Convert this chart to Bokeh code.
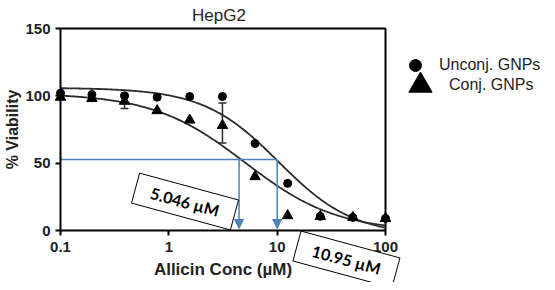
import numpy as np
from bokeh.plotting import figure
from bokeh.models import (Range1d, FixedTicker, Label, Arrow, NormalHead, Whisker, TeeHead,
                          ColumnDataSource, Legend, LegendItem)
from bokeh.embed import file_html
from bokeh.resources import INLINE

# ---- data ----
conc = [0.1, 0.195, 0.39, 0.78, 1.56, 3.125, 6.25, 12.5, 25, 50, 100]
unconj = [102, 101, 100, 99, 99.5, 99.5, 64.6, 35, 10.5, 9.7, 9]
conj = [99, 98, 96, 89, 82, 78, 40, 11, 10.5, 9.7, 9]

err_x = [0.39, 3.125]
err_lo = [90.6, 65]
err_hi = [101, 94.6]

# 4-parameter logistic fits (top, bottom, IC50, Hill slope)
unconj_fit = [106, -4, 10.3, 1.25]
conj_fit = [102, -1, 5.046, 1.02]

ic50_labels = ["5.046 \u00b5M", "10.95 \u00b5M"]
arrow_x = [4.45, 10.0]
half_y = 52.7

x_ticks = [0.1, 1, 10, 100]
x_tick_labels = ["0.1", "1", "10", "100"]
y_ticks = [0, 50, 100, 150]
x_lim = (0.1, 100)
y_lim = (0, 150)

FONT = "Liberation Sans"
BLUE = "#4F81BD"
INK = "#222222"

# ---- canvas geometry: the frame covers the whole canvas, axes are pinned inside ----
W, H = 545, 282
AX_LEFT, AX_RIGHT = 60, 385      # canvas px of x = 0.1 and x = 100
AX_TOP, AX_BOTTOM = 28, 230      # canvas px of y = 150 and y = 0
dec = (AX_RIGHT - AX_LEFT) / 3.0
ypp = (y_lim[1] - y_lim[0]) / (AX_BOTTOM - AX_TOP)
x_range = Range1d(10 ** (-1 - AX_LEFT / dec), 10 ** (-1 + (W - AX_LEFT) / dec))
y_range = Range1d(-(H - AX_BOTTOM) * ypp, y_lim[1] + AX_TOP * ypp)

p = figure(x_axis_type="log", x_range=x_range, y_range=y_range,
           width=W, height=H, min_border=0,
           output_backend="svg", toolbar_location=None, title=None)

p.xgrid.visible = False
p.ygrid.visible = False
p.outline_line_color = None
p.background_fill_color = "white"
p.border_fill_color = "white"

p.xaxis.fixed_location = y_lim[0]
p.xaxis.bounds = x_lim
p.yaxis.fixed_location = x_lim[0]
p.yaxis.bounds = y_lim
p.xaxis.ticker = FixedTicker(ticks=x_ticks)
p.xaxis.major_label_overrides = {t: l for t, l in zip(x_ticks, x_tick_labels)}
p.yaxis.ticker = FixedTicker(ticks=y_ticks)
for ax in (p.xaxis, p.yaxis):
    ax.axis_line_width = 2
    ax.axis_line_color = "black"
    ax.major_tick_line_width = 2
    ax.major_tick_line_color = "black"
    ax.major_tick_out = 5
    ax.major_tick_in = 0
    ax.minor_tick_line_color = None
    ax.major_label_text_font = FONT
    ax.major_label_text_font_style = "bold"
    ax.major_label_text_font_size = "15px"
    ax.major_label_text_color = INK
    ax.axis_label_text_font = FONT
    ax.axis_label_text_font_style = "bold"
    ax.axis_label_text_color = INK
p.xaxis.axis_label = "Allicin Conc (\u00b5M)"
p.yaxis.axis_label = "% Viability"
p.xaxis.axis_label_text_font_size = "17px"
p.yaxis.axis_label_text_font_size = "16px"
p.xaxis.major_label_standoff = 6
p.xaxis.axis_label_standoff = 5
p.yaxis.major_label_standoff = 5
p.yaxis.axis_label_standoff = 1

# top and right frame lines
p.line([x_lim[0], x_lim[1], x_lim[1]], [y_lim[1], y_lim[1], y_lim[0]],
       line_color="black", line_width=2)

# fitted curves
xs = np.logspace(-1, 2, 300)


def logistic(x, params):
    top, bottom, c, h = params
    return bottom + (top - bottom) / (1 + (x / c) ** h)


p.line(xs, logistic(xs, unconj_fit), line_color="#2b2b2b", line_width=1.8)
p.line(xs, logistic(xs, conj_fit), line_color="#2b2b2b", line_width=1.8)

# error bars
esrc = ColumnDataSource(dict(x=err_x, lo=err_lo, hi=err_hi))
p.add_layout(Whisker(base="x", lower="lo", upper="hi", source=esrc, dimension="height",
                     line_color="#2b2b2b", line_width=1.5,
                     lower_head=TeeHead(size=8, line_color="#2b2b2b", line_width=1.5),
                     upper_head=TeeHead(size=8, line_color="#2b2b2b", line_width=1.5)))

# points
p.scatter(conc, unconj, marker="circle", size=8, color="black")
p.scatter(conc, conj, marker="triangle", size=10.5, color="black")

# IC50 guide lines
p.segment(x0=[x_lim[0]], y0=[half_y], x1=[arrow_x[1]], y1=[half_y], line_color=BLUE, line_width=1.5)
for ax_ in arrow_x:
    p.add_layout(Arrow(end=NormalHead(size=9, fill_color=BLUE, line_color=BLUE),
                       x_start=ax_, y_start=half_y, x_end=ax_, y_end=1.5,
                       line_color=BLUE, line_width=1.5))

# annotation boxes
box_pos = [(1.41, 21.5), (43.6, -21.5)]
for (bx, by), txt in zip(box_pos, ic50_labels):
    p.add_layout(Label(x=bx, y=by, text=txt, angle=-0.265, text_align="center",
                       text_baseline="middle", text_font="Lato", text_font_style="bold",
                       text_font_size="16px", text_color="black",
                       background_fill_color="white", border_line_color="black",
                       border_line_width=1,
                       padding=dict(left=16, right=16, top=6, bottom=6)))

# title
p.add_layout(Label(x=2.9, y=159.6, text="HepG2", text_align="center",
                   text_baseline="alphabetic", text_font=FONT, text_font_size="17px",
                   text_color=INK))

# legend (separate legends for different marker sizes; proxy points lie off-canvas)
r_l1 = p.scatter(x=[1e-4], y=[0], marker="circle", size=12, color="black")
r_l2 = p.scatter(x=[1e-4], y=[0], marker="triangle", size=23, color="black")
leg1 = Legend(items=[LegendItem(label="Unconj. GNPs", renderers=[r_l1])],
              location=(400, H - 80), glyph_width=30, glyph_height=30, label_standoff=9)
leg2 = Legend(items=[LegendItem(label="Conj. GNPs", renderers=[r_l2])],
              location=(391, H - 114), glyph_width=58, glyph_height=58, label_standoff=-10)
for lg in (leg1, leg2):
    lg.padding = 0
    lg.margin = 0
    lg.spacing = 0
    lg.border_line_color = None
    lg.background_fill_alpha = 0
    lg.label_text_font = FONT
    lg.label_text_font_size = "16px"
    lg.label_text_color = INK
    p.add_layout(lg, "center")

open("out.html", "w").write(file_html(p, INLINE))
